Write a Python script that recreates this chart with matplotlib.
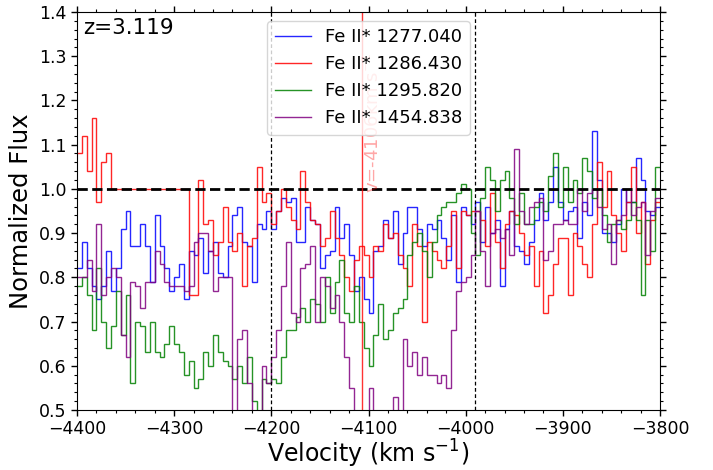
import numpy as np
import matplotlib
matplotlib.use("Agg")
import matplotlib.pyplot as plt
from matplotlib.ticker import MultipleLocator

# velocity bin edges (km/s), 5 km/s bins
v_start, v_stop, v_step = -4400, -3800, 5

blue = [0.82, 0.88, 0.82, 0.78, 0.75, 0.78, 0.86, 0.77, 0.82, 0.91, 0.95, 0.87, 0.87, 0.92, 0.87, 0.79, 0.94, 0.87, 0.82, 0.77,
        0.80, 0.83, 0.75, 0.86, 0.85, 0.89, 0.81, 0.86, 0.88, 0.81, 0.80, 0.87, 0.94, 0.96, 0.88, 0.87, 0.79, 0.92, 0.91, 0.95,
        0.91, 0.95, 0.98, 0.97, 0.98, 0.88, 0.88, 0.96, 0.93, 0.92, 0.82, 0.85, 0.86, 0.96, 0.89, 0.92, 0.85, 0.77, 0.80, 0.75,
        0.72, 0.86, 0.87, 0.93, 0.89, 0.95, 0.83, 0.90, 0.96, 0.96, 0.91, 0.87, 0.92, 0.91, 0.93, 0.89, 0.84, 0.94, 0.79, 0.96,
        0.94, 0.92, 0.97, 0.88, 0.96, 0.90, 0.93, 0.78, 0.91, 0.95, 0.87, 0.86, 0.83, 0.88, 0.93, 0.99, 0.93, 0.97, 1.05, 0.97,
        0.93, 0.95, 0.96, 0.89, 0.97, 0.94, 1.13, 1.02, 0.90, 0.90, 0.88, 0.92, 1.00, 0.97, 0.97, 1.07, 1.02, 0.95, 0.94, 0.96]

red = [1.08, 1.12, 1.04, 1.16, 0.97, 1.06, 1.08, 1.00, 1.00, 1.00, 1.00, 1.00, 1.00, 1.00, 1.00, 1.00, 1.00, 1.00, 1.00, 1.00,
       1.00, 1.00, 1.00, 0.76, 0.76, 1.02, 0.92, 0.93, 0.85, 0.88, 0.96, 0.88, 0.86, 0.90, 0.78, 0.87, 0.89, 1.05, 0.97, 0.99,
       0.92, 0.95, 1.00, 0.96, 0.93, 0.91, 1.04, 0.97, 0.93, 0.92, 0.87, 0.89, 0.95, 0.89, 0.85, 0.80, 0.77, 0.84, 0.87, 0.85,
       0.80, 0.87, 0.86, 0.92, 0.89, 0.90, 0.85, 0.82, 0.78, 0.92, 0.87, 0.70, 0.88, 0.86, 0.84, 0.82, 0.87, 0.95, 0.82, 0.95,
       0.94, 0.95, 0.95, 0.93, 0.87, 0.99, 0.88, 0.82, 0.92, 0.95, 0.94, 0.90, 0.85, 0.87, 0.78, 0.86, 0.72, 0.76, 0.83, 0.89,
       0.89, 0.76, 0.90, 0.87, 0.83, 0.80, 0.92, 1.06, 0.96, 1.04, 0.94, 0.90, 0.86, 0.97, 1.05, 0.90, 0.97, 0.83, 0.93, 0.97]

green = [0.78, 0.80, 0.76, 0.68, 0.82, 0.70, 0.64, 0.69, 0.77, 0.67, 0.76, 0.56, 0.70, 0.69, 0.63, 0.70, 0.63, 0.62, 0.65, 0.69,
         0.65, 0.63, 0.58, 0.61, 0.55, 0.57, 0.63, 0.60, 0.67, 0.63, 0.61, 0.60, 0.57, 0.60, 0.56, 0.62, 0.52, 0.48, 0.57, 0.56,
         0.57, 0.56, 0.62, 0.68, 0.68, 0.71, 0.73, 0.70, 0.75, 0.74, 0.70, 0.80, 0.72, 0.79, 0.84, 0.72, 0.70, 0.78, 0.70, 0.64,
         0.60, 0.67, 0.74, 0.66, 0.68, 0.72, 0.73, 0.75, 0.85, 0.88, 0.90, 0.86, 0.80, 0.88, 0.94, 0.96, 0.97, 0.97, 0.99, 1.01,
         1.00, 0.90, 0.85, 0.98, 1.05, 1.02, 0.95, 1.02, 1.04, 0.98, 0.92, 0.99, 0.92, 0.92, 0.96, 0.97, 0.95, 1.03, 1.08, 0.96,
         1.05, 0.97, 1.02, 0.99, 1.07, 1.04, 0.98, 1.00, 0.94, 0.88, 0.92, 0.93, 0.91, 0.93, 0.97, 0.93, 0.76, 0.93, 0.86, 1.05]

purple = [0.80, 0.80, 0.84, 0.77, 0.92, 0.76, 0.80, 0.82, 0.80, 0.67, 0.62, 0.79, 0.78, 0.73, 0.79, 0.79, 0.86, 0.83, 0.79, 0.78,
          0.78, 0.78, 0.77, 0.78, 0.88, 0.90, 0.90, 0.86, 0.77, 0.80, 0.80, 0.80, 0.47, 0.66, 0.68, 0.56, 0.45, 0.45, 0.60, 0.56,
          0.62, 0.68, 0.78, 0.88, 0.72, 0.70, 0.82, 0.83, 0.87, 0.70, 0.80, 0.78, 0.73, 0.76, 0.70, 0.62, 0.55, 0.45, 0.45, 0.45,
          0.55, 0.45, 0.45, 0.45, 0.45, 0.53, 0.45, 0.66, 0.60, 0.63, 0.58, 0.62, 0.58, 0.58, 0.56, 0.58, 0.55, 0.68, 0.77, 0.79,
          0.80, 0.85, 0.95, 0.86, 0.78, 0.90, 0.91, 0.89, 0.91, 0.85, 1.09, 0.95, 0.92, 0.96, 0.97, 0.98, 0.84, 0.86, 0.92, 0.92,
          0.93, 0.92, 0.92, 1.00, 0.95, 0.99, 1.00, 0.96, 0.91, 0.92, 0.83, 0.93, 0.94, 1.00, 0.94, 0.96, 0.97, 0.85, 0.95, 0.98]

labels = ["Fe II* 1277.040", "Fe II* 1286.430", "Fe II* 1295.820", "Fe II* 1454.838"]
colors = ["blue", "red", "green", "purple"]
series = [blue, red, green, purple]

v_center = -4107
v_bounds = [-4200, -3990]
redshift_label = "z=3.119"

edges = np.arange(v_start, v_stop + v_step, v_step)

fig = plt.figure(figsize=(7.13, 4.70), dpi=100)
ax = fig.add_axes([0.108, 0.1277, 0.8177, 0.8468])

for vals, col, lab in zip(series, colors, labels):
    ax.stairs(vals, edges, baseline=None, color=col, lw=1.0, alpha=0.85, label=lab)

ax.axhline(1.0, color="black", ls="--", lw=2)
for vb in v_bounds:
    ax.axvline(vb, color="black", ls="--", lw=0.9, dashes=(3, 2))
ax.axvline(v_center, color="red", lw=1, alpha=0.8)
ax.text(v_center + 1, 0.99, "v=%dkm s$^{-1}$" % (v_center + 1), rotation=90,
        color="red", alpha=0.35, fontsize=13, ha="left", va="bottom")

ax.text(0.01, 0.985, redshift_label, transform=ax.transAxes, fontsize=15.5,
        ha="left", va="top")

ax.set_xlim(-4400, -3800)
ax.set_ylim(0.5, 1.4)
ax.xaxis.set_major_locator(MultipleLocator(100))
ax.xaxis.set_minor_locator(MultipleLocator(20))
ax.yaxis.set_major_locator(MultipleLocator(0.1))
ax.yaxis.set_minor_locator(MultipleLocator(0.02))
ax.tick_params(which="both", direction="out", top=True, right=True, labelsize=12.5)
ax.tick_params(axis="x", which="major", pad=3)
ax.tick_params(which="major", length=4, width=1)
ax.tick_params(which="minor", length=2.5, width=0.8)

ax.set_xlabel("Velocity (km s$^{-1}$)", fontsize=17, labelpad=0)
ax.set_ylabel("Normalized Flux", fontsize=17.5)

ax.legend(loc="upper center", fontsize=13, handlelength=2.0)

fig.savefig("out.png", dpi=100)
